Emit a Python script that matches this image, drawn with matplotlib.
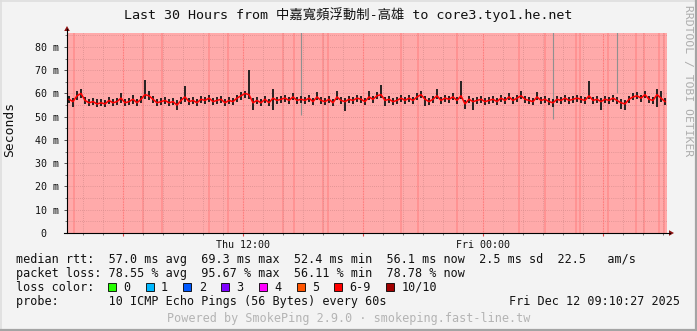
import numpy as np
import matplotlib
matplotlib.use("Agg")
import matplotlib.pyplot as plt
from matplotlib.lines import Line2D
from matplotlib.patches import Polygon, Rectangle

# ---------------- data ----------------
start_hour = 3.2          # hours since Thu 00:00
step_hour = 0.2
span_hours = 30

median_ms = [
    57.5, 56.5, 59.0, 60.0, 57.0, 56.0, 56.5, 55.5, 56.0, 55.5,
    57.0, 56.0, 56.5, 58.0, 56.0, 56.5, 57.5, 56.0, 57.5, 59.5,
    59.0, 57.5, 56.0, 56.5, 57.0, 56.0, 56.5, 55.0, 57.0, 58.5,
    56.5, 57.0, 56.0, 57.5, 57.0, 58.0, 56.5, 57.0, 57.5, 56.0,
    57.0, 56.5, 58.0, 59.0, 60.0, 59.5, 56.0, 57.0, 56.0, 57.5,
    56.0, 58.0, 57.0, 57.5, 58.0, 57.0, 58.5, 57.0, 57.5, 57.0,
    58.0, 56.5, 58.5, 57.0, 56.5, 57.5, 56.0, 58.5, 57.0, 56.5,
    57.5, 57.0, 58.0, 57.5, 56.5, 58.5, 57.5, 59.0, 59.5, 57.0,
    57.5, 56.5, 57.0, 58.0, 57.0, 58.0, 57.0, 58.5, 59.5, 57.5,
    56.5, 57.5, 59.0, 57.0, 58.0, 57.5, 58.5, 57.0, 59.0, 55.5,
    57.5, 56.5, 57.0, 57.5, 56.5, 57.0, 57.5, 56.5, 58.0, 57.0,
    58.5, 57.0, 58.0, 59.0, 57.5, 57.0, 56.5, 58.5, 57.0, 57.5,
    56.5, 56.0, 57.5, 57.0, 58.0, 57.0, 57.5, 58.0, 57.5, 57.0,
    59.0, 57.0, 57.5, 56.5, 57.5, 57.0, 58.0, 57.0, 56.0, 55.5,
    57.5, 58.5, 59.0, 58.0, 59.5, 57.5, 57.0, 59.5, 58.0, 56.5,
]
smoke_hi = [
    59.0, 58.0, 61.0, 62.0, 58.5, 57.5, 58.0, 57.5, 57.5, 57.0,
    58.5, 57.5, 58.0, 60.0, 57.5, 58.0, 59.5, 57.5, 59.0, 66.0,
    61.0, 59.0, 57.5, 58.0, 58.5, 57.5, 58.0, 57.0, 58.5, 63.0,
    58.0, 58.5, 57.5, 59.0, 58.5, 59.5, 58.0, 58.5, 59.0, 57.5,
    58.5, 58.0, 59.5, 60.5, 61.0, 70.0, 58.0, 58.5, 57.5, 59.0,
    57.5, 62.0, 58.5, 59.0, 59.5, 58.5, 60.0, 58.5, 59.0, 58.5,
    59.5, 58.0, 60.5, 58.5, 58.0, 59.0, 57.5, 61.0, 58.5, 58.0,
    59.0, 58.5, 59.5, 59.0, 58.0, 61.0, 59.0, 60.5, 63.5, 58.5,
    59.0, 58.0, 58.5, 59.5, 58.5, 59.5, 58.5, 60.0, 61.0, 59.0,
    58.0, 59.0, 62.0, 58.5, 59.5, 59.0, 60.0, 58.5, 65.5, 57.0,
    59.0, 58.0, 58.5, 59.0, 58.0, 58.5, 59.0, 58.0, 59.5, 58.5,
    60.0, 58.5, 59.5, 61.0, 59.0, 58.5, 58.0, 60.5, 58.5, 59.0,
    58.0, 57.5, 59.0, 58.5, 59.5, 58.5, 59.0, 59.5, 59.0, 58.5,
    65.5, 58.5, 59.0, 58.0, 59.0, 58.5, 59.5, 58.5, 57.5, 57.0,
    59.0, 60.0, 60.5, 59.5, 61.0, 59.0, 58.5, 62.0, 61.0, 58.0,
]
smoke_lo = [
    56.0, 54.0, 57.0, 58.0, 55.5, 54.5, 55.0, 54.0, 54.5, 54.0,
    55.5, 54.5, 55.0, 56.0, 54.5, 55.0, 55.5, 54.5, 56.0, 57.5,
    57.0, 56.0, 54.5, 55.0, 55.5, 54.5, 55.0, 53.0, 55.5, 56.5,
    55.0, 55.5, 54.5, 56.0, 55.5, 56.5, 55.0, 55.5, 56.0, 54.5,
    55.5, 55.0, 56.5, 57.0, 58.0, 57.5, 53.0, 55.5, 54.5, 56.0,
    54.5, 53.0, 55.5, 56.0, 56.5, 55.5, 57.0, 55.5, 56.0, 55.5,
    56.5, 55.0, 57.0, 55.5, 55.0, 56.0, 54.5, 57.0, 55.5, 52.5,
    56.0, 55.5, 56.5, 56.0, 55.0, 57.0, 56.0, 57.5, 58.0, 54.5,
    56.0, 55.0, 55.5, 56.5, 55.5, 56.5, 55.5, 57.0, 58.0, 54.5,
    55.0, 56.0, 57.5, 55.5, 56.5, 56.0, 57.0, 55.5, 57.5, 53.5,
    56.0, 53.0, 55.5, 56.0, 55.0, 55.5, 56.0, 55.0, 56.5, 55.5,
    57.0, 55.5, 56.5, 57.5, 56.0, 55.5, 55.0, 57.0, 55.5, 56.0,
    55.0, 54.0, 56.0, 55.5, 56.5, 55.5, 56.0, 56.5, 56.0, 55.5,
    57.5, 55.5, 56.0, 53.0, 56.0, 55.5, 56.5, 55.5, 53.5, 53.0,
    56.0, 57.0, 57.5, 56.5, 58.0, 56.0, 55.5, 54.0, 56.5, 55.0,
]
# outlier pings (light smoke) that leave the chart at the top
outlier_idx = [58, 121, 137]
outlier_lo = [50.6, 49.0, 60.0]
outlier_hi = [120.0, 120.0, 120.0]
# steps with heavier loss (darker background stripes), hours since Thu 00:00
heavy_loss_hours = [3.55, 7.0, 7.95, 10.3, 11.25, 14.0, 14.55, 16.0, 16.25,
                    19.9, 20.75, 22.7, 25.8, 27.1, 28.65, 28.85, 30.25,
                    31.65, 32.05, 32.8, 33.05]

y_ticks = [0, 10, 20, 30, 40, 50, 60, 70, 80]
y_labels = ["0  ", "10 m", "20 m", "30 m", "40 m", "50 m", "60 m", "70 m", "80 m"]
x_major_hours = [6, 12, 18, 24, 30]
x_major_labels = ["", "Thu 12:00", "", "Fri 00:00", ""]

title = "Last 30 Hours from 中嘉寬頻浮動制-高雄 to core3.tyo1.he.net"
legend_lines = [
    "median rtt:  57.0 ms avg  69.3 ms max  52.4 ms min  56.1 ms now  2.5 ms sd  22.5   am/s",
    "packet loss: 78.55 % avg  95.67 % max  56.11 % min  78.78 % now",
    "loss color:",
    "probe:       10 ICMP Echo Pings (56 Bytes) every 60s",
]
loss_labels = ["0", "1", "2", "3", "4", "5", "6-9", "10/10"]
loss_colors = ["#26ff00", "#00b8ff", "#0059ff", "#7e00ff", "#ff00ff",
               "#ff5500", "#ff0000", "#a10000"]
date_text = "Fri Dec 12 09:10:27 2025"
footer = "Powered by SmokePing 2.9.0 · smokeping.fast-line.tw"

# ---------------- figure ----------------
W, H, DPI = 697, 331, 100
MONO = ["DejaVu Sans Mono", "Noto Sans CJK TC"]
fig = plt.figure(figsize=(W / DPI, H / DPI), dpi=DPI, facecolor="#f3f3f3")

def fx(px):
    return px / W

def fy(py):
    return 1 - py / H

L, R, T, B = 67, 667, 33, 233
ax = fig.add_axes([fx(L), fy(B), (R - L) / W, (B - T) / H])
ax.set_facecolor("none")
ax.set_xlim(start_hour, start_hour + span_hours)
ax.set_ylim(0, 86)
for s in ax.spines.values():
    s.set_visible(False)

n = len(median_ms)
t = start_hour + step_hour * (np.arange(n) + 0.5)
med = np.array(median_ms)

# background (loss shading)
ax.axvspan(t[0] - step_hour / 2, t[-1] + step_hour / 2, color="#ffaaaa", zorder=0, lw=0)
ax.vlines(heavy_loss_hours, 0, 86, color="#ff8c8c", lw=1.1, zorder=0.5)

# grid
dot = (0, (0.72, 1.44))
for yv in np.arange(5, 86, 5):
    ax.axhline(yv, color="#d98e8e", lw=0.7, ls=dot, zorder=1)
for h in range(4, 34):
    if h in x_major_hours:
        ax.axvline(h, color="#ff7070", lw=0.8, ls=(0, (0.72, 0.72)), zorder=1)
    else:
        ax.axvline(h, color="#d98e8e", lw=0.7, ls=dot, zorder=1)

# smoke and median
ax.vlines(t[outlier_idx], outlier_lo, outlier_hi, color="#909090", lw=0.8, zorder=2)
ax.vlines(t, smoke_lo, smoke_hi, color="#1c1c1c", lw=1.35, zorder=3)
ax.plot(t, med, color="#ff0000", lw=1.1, zorder=4)

# ticks
ax.set_yticks(y_ticks, y_labels)
ax.set_yticks(np.arange(5, 86, 10), minor=True)
ax.set_xticks(x_major_hours, x_major_labels)
ax.set_xticks(range(4, 34), minor=True)
ax.tick_params(axis="y", which="major", length=2, width=0.7, color="#555555",
               pad=3.6, labelsize=7.2, direction="out")
ax.tick_params(axis="y", which="minor", length=1.5, width=0.7, color="#777777", direction="out")
ax.tick_params(axis="x", which="major", length=2.5, width=0.8, color="#e04040",
               pad=2.6, labelsize=7.2, direction="out")
ax.tick_params(axis="x", which="minor", length=1.5, width=0.7, color="#777777", direction="out")
for lab in ax.get_xticklabels() + ax.get_yticklabels():
    lab.set_fontfamily(MONO)
    lab.set_color("#111111")

# axis lines & arrows (figure pixel coords)
fig.add_artist(Line2D([fx(L), fx(L)], [fy(B), fy(29)], color="#000000", lw=0.8))
fig.add_artist(Line2D([fx(L - 3), fx(670)], [fy(B), fy(B)], color="#000000", lw=0.8))
fig.add_artist(Polygon([[fx(L), fy(26)], [fx(L - 2.8), fy(31)], [fx(L + 2.8), fy(31)]],
                       closed=True, color="#8b1010", lw=0))
fig.add_artist(Polygon([[fx(674), fy(B)], [fx(669), fy(B - 2.8)], [fx(669), fy(B + 2.8)]],
                       closed=True, color="#8b1010", lw=0))

# texts
fig.text(fx(348.5), fy(19), title, ha="center", va="baseline", fontsize=9.6,
         family=MONO, color="#111111")
fig.text(fx(10), fy(129), "Seconds", rotation=90, ha="center", va="center",
         fontsize=9.4, family=MONO, color="#111111")
fig.text(fx(688), fy(5), "RRDTOOL / TOBI OETIKER", rotation=-90, ha="center", va="top",
         fontsize=8.2, family=MONO, color="#acacac")

baselines = [263.5, 277, 291, 305]
for s, by in zip(legend_lines, baselines):
    fig.text(fx(16), fy(by), s, ha="left", va="baseline", fontsize=8.5,
             family=MONO, color="#111111")
fig.text(fx(680), fy(305), date_text, ha="right", va="baseline", fontsize=8.5,
         family=MONO, color="#111111")
fig.text(fx(348.5), fy(322), footer, ha="center", va="baseline", fontsize=8.5,
         family=MONO, color="#b4b4b4")

# loss colour boxes
char_w = 7.1
bx = 108.0
for lab, col in zip(loss_labels, loss_colors):
    fig.add_artist(Rectangle((fx(bx), fy(291)), 8 / W, 8 / H, facecolor=col,
                             edgecolor="#000000", lw=0.6))
    fig.text(fx(bx + 15.3), fy(291), lab, ha="left", va="baseline", fontsize=8.5,
             family=MONO, color="#111111")
    bx = bx + 15.3 + len(lab) * char_w + 15.3

# frame
fig.add_artist(Line2D([0, 1], [fy(0.5), fy(0.5)], color="#dedede", lw=1.2))
fig.add_artist(Line2D([fx(0.5), fx(0.5)], [0, 1], color="#dedede", lw=1.2))
fig.add_artist(Line2D([0, 1], [fy(330), fy(330)], color="#a4a4a4", lw=1.6))
fig.add_artist(Line2D([fx(696), fx(696)], [0, 1], color="#a4a4a4", lw=1.6))

fig.savefig("out.png", dpi=DPI, facecolor=fig.get_facecolor())
